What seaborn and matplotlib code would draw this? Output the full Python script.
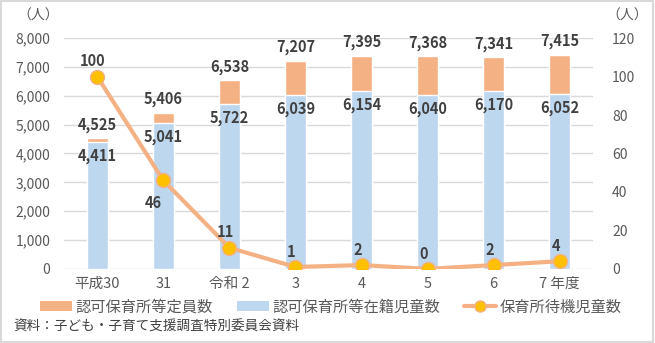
import matplotlib
matplotlib.use("Agg")
import matplotlib.pyplot as plt
from matplotlib.patches import Patch, Rectangle
from matplotlib.lines import Line2D
import seaborn as sns
import pandas as pd

# 年度ごとのデータ
years = ["平成30", "31", "令和 2", "3", "4", "5", "6", "7 年度"]
capacity = [4525, 5406, 6538, 7207, 7395, 7368, 7341, 7415]      # 認可保育所等定員数
enrolled = [4411, 5041, 5722, 6039, 6154, 6040, 6170, 6052]      # 認可保育所等在籍児童数
waiting = [100, 46, 11, 1, 2, 0, 2, 4]                           # 保育所待機児童数
left_ticks = [0, 1000, 2000, 3000, 4000, 5000, 6000, 7000, 8000]
right_ticks = [0, 20, 40, 60, 80, 100, 120]

df = pd.DataFrame({"year": years, "capacity": capacity,
                   "enrolled": enrolled, "waiting": waiting})

sns.set_theme(style="white")
plt.rcParams["font.family"] = ["Noto Sans CJK JP", "DejaVu Sans"]

C_ORANGE = "#F4B183"
C_BLUE = "#BDD7EE"
C_GOLD = "#FFC000"
C_TEXT = "#595959"
C_LABEL = "#404040"
C_GRID = "#D9D9D9"

fig = plt.figure(figsize=(6.55, 3.43), dpi=100)
ax = fig.add_axes([0.098, 0.216, 0.807, 0.673])

sns.barplot(data=df, x="year", y="capacity", color=C_ORANGE, width=0.32,
            saturation=1, ax=ax, zorder=2)
sns.barplot(data=df, x="year", y="enrolled", color=C_BLUE, width=0.32,
            saturation=1, ax=ax, zorder=3)

ax.set_ylim(0, 8000)
ax.set_xlim(-0.5, len(years) - 0.5)
ax.set_yticks(left_ticks)
ax.set_yticklabels([f"{v:,}" for v in left_ticks])
ax.set_xlabel("")
ax.set_ylabel("")
ax.grid(axis="y", color=C_GRID, linewidth=1, zorder=0)
ax.set_axisbelow(True)
for s in ax.spines.values():
    s.set_visible(False)
ax.tick_params(axis="y", length=0, pad=10, labelsize=10, labelcolor=C_TEXT)
ax.tick_params(axis="x", length=0, pad=6, labelsize=10.5, labelcolor=C_TEXT)

# 棒グラフのデータラベル
for i, (c, e) in enumerate(zip(capacity, enrolled)):
    ax.annotate(f"{c:,}", (i, c), xytext=(0, 4), textcoords="offset points",
                ha="center", va="bottom", fontsize=10.5, fontweight="bold",
                color=C_LABEL, zorder=5)
    ax.annotate(f"{e:,}", (i, e), xytext=(0, -10), textcoords="offset points",
                ha="center", va="center", fontsize=10.5, fontweight="bold",
                color=C_LABEL, zorder=5)

# 待機児童数の折れ線（右軸）
ax2 = ax.twinx()
sns.pointplot(data=df, x="year", y="waiting", ax=ax2, color=C_ORANGE,
              linewidth=3, markers="o", markersize=10,
              markerfacecolor=C_GOLD, markeredgecolor=C_ORANGE,
              markeredgewidth=1)
ax2.set_ylim(0, 120)
ax2.set_xlim(-0.5, len(years) - 0.5)
ax2.set_yticks(right_ticks)
ax2.set_ylabel("")
ax2.set_xlabel("")
for s in ax2.spines.values():
    s.set_visible(False)
ax2.tick_params(axis="y", length=0, pad=14, labelsize=10, labelcolor=C_TEXT)
ax2.grid(False)

for i, w in enumerate(waiting):
    if i == 1:
        off = (-7, -16)
    else:
        off = (-3, 11)
    ax2.annotate(f"{w}", (i, w), xytext=off, textcoords="offset points",
                 ha="center", va="center", fontsize=10.5, fontweight="bold",
                 color=C_LABEL, zorder=6)

# 単位表示
fig.text(0.026, 0.955, "（人）", fontsize=10, color=C_TEXT, ha="left", va="center")
fig.text(0.925, 0.955, "（人）", fontsize=10, color=C_TEXT, ha="left", va="center")

# 凡例
handles = [
    Patch(facecolor=C_ORANGE, edgecolor="none"),
    Patch(facecolor=C_BLUE, edgecolor="none"),
    Line2D([0], [0], color=C_ORANGE, linewidth=3, marker="o", markersize=8,
           markerfacecolor=C_GOLD, markeredgecolor=C_ORANGE),
]
labels = ["認可保育所等定員数", "認可保育所等在籍児童数", "保育所待機児童数"]
fig.legend(handles, labels, loc="center", bbox_to_anchor=(0.505, 0.105), ncol=3,
           frameon=False, fontsize=11, labelcolor=C_TEXT, handlelength=2.1,
           handleheight=0.55, handletextpad=0.2, columnspacing=1.6,
           borderaxespad=0)

# 出典
fig.text(0.021, 0.048, "資料：子ども・子育て支援調査特別委員会資料", fontsize=9.8,
         color="#404040", ha="left", va="center")

# 外枠
fig.patches.append(Rectangle((0.002, 0.003), 0.995, 0.993, transform=fig.transFigure,
                             fill=False, edgecolor=C_GRID, linewidth=1.5))

fig.savefig("out.png", dpi=100)
